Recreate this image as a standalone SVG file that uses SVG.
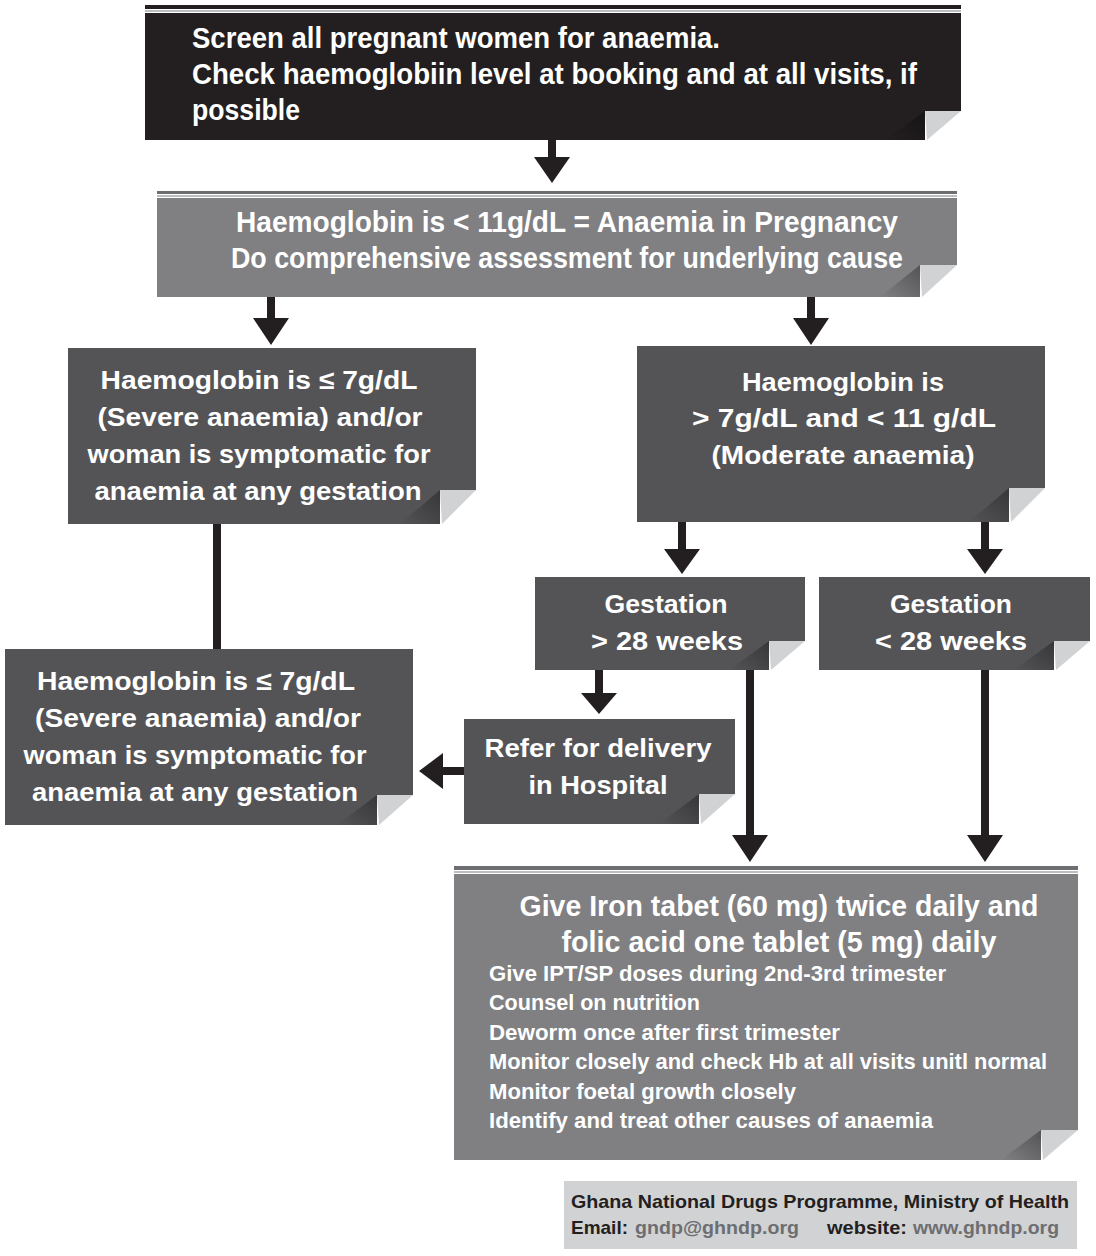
<svg xmlns="http://www.w3.org/2000/svg" width="1096" height="1256" viewBox="0 0 1096 1256">
<defs>
<style>
.t{font-family:"Liberation Sans",Arial,sans-serif;font-weight:bold;fill:#ffffff}
.c{text-anchor:middle}
.big{font-size:29px}
.mid{font-size:26px}
.sm{font-size:22px}
.ft{font-family:"Liberation Sans",Arial,sans-serif;font-weight:bold;font-size:19px;fill:#231f20}
.lnk{fill:#6d6e71}
.black{fill:#231f20}
.grey{fill:#808083}
.dark{fill:#545457}
.fold{fill:#d1d2d4}
.conn{fill:#231f20}
</style>
<linearGradient id="sh" x1="1" y1="0" x2="0" y2="1">
<stop offset="0" stop-color="#000" stop-opacity="0.35"/>
<stop offset="1" stop-color="#000" stop-opacity="0"/>
</linearGradient>
</defs>
<rect width="1096" height="1256" fill="#ffffff"/>

<g id="connectors">
<rect x="548" y="140" width="8" height="20" class="conn"/>
<polygon points="534,157 570,157 552,183" class="conn"/>
<rect x="267" y="297" width="8" height="24" class="conn"/>
<polygon points="253,318 289,318 271,345" class="conn"/>
<rect x="807" y="297" width="8" height="24" class="conn"/>
<polygon points="793,318 829,318 811,345" class="conn"/>
<rect x="213" y="524" width="8" height="125" class="conn"/>
<rect x="678" y="522" width="8" height="30" class="conn"/>
<polygon points="664,549 700,549 682,574" class="conn"/>
<rect x="981" y="522" width="8" height="30" class="conn"/>
<polygon points="967,549 1003,549 985,574" class="conn"/>
<rect x="595" y="670" width="8" height="26" class="conn"/>
<polygon points="581,693 617,693 599,714" class="conn"/>
<rect x="440" y="767" width="24" height="8" class="conn"/>
<polygon points="443,753 443,789 419,771" class="conn"/>
<rect x="746" y="670" width="8" height="168" class="conn"/>
<polygon points="732,835 768,835 750,862" class="conn"/>
<rect x="981" y="670" width="8" height="168" class="conn"/>
<polygon points="967,835 1003,835 985,862" class="conn"/>
</g>

<g id="screen">
<rect x="145" y="5" width="816" height="4" fill="#231f20"/>
<rect x="145" y="10" width="816" height="2" fill="#bcbdc0"/>
<polygon points="145,13 961,13 961,111 925,111 925,140 145,140" class="black"/>
<polygon points="885,140 925,111 925,140" fill="url(#sh)"/>
<polygon points="925,111 961,111 927,140" class="fold"/>
<text class="t big" x="192" y="48" textLength="528" lengthAdjust="spacingAndGlyphs">Screen all pregnant women for anaemia.</text>
<text class="t big" x="192" y="84" textLength="725" lengthAdjust="spacingAndGlyphs">Check haemoglobiin level at booking and at all visits, if</text>
<text class="t big" x="192" y="120" textLength="108" lengthAdjust="spacingAndGlyphs">possible</text>
</g>

<g id="anaemia">
<rect x="157" y="191" width="800" height="3" fill="#6d6e71"/>
<rect x="157" y="195" width="800" height="2" fill="#bcbdc0"/>
<polygon points="157,198 957,198 957,265 920,265 920,297 157,297" class="grey"/>
<polygon points="880,297 920,265 920,297" fill="url(#sh)"/>
<polygon points="920,265 957,265 922,297" class="fold"/>
<text class="t big c" x="567" y="232" textLength="662" lengthAdjust="spacingAndGlyphs">Haemoglobin is &lt; 11g/dL = Anaemia in Pregnancy</text>
<text class="t big c" x="567" y="268" textLength="672" lengthAdjust="spacingAndGlyphs">Do comprehensive assessment for underlying cause</text>
</g>

<g id="severe">
<polygon points="68,348 476,348 476,490 440,490 440,524 68,524" class="dark"/>
<polygon points="400,524 440,490 440,524" fill="url(#sh)"/>
<polygon points="440,490 476,490 442,524" class="fold"/>
<text class="t mid c" x="259" y="389" textLength="317" lengthAdjust="spacingAndGlyphs">Haemoglobin is ≤ 7g/dL</text>
<text class="t mid c" x="260" y="426" textLength="325" lengthAdjust="spacingAndGlyphs">(Severe anaemia) and/or</text>
<text class="t mid c" x="259" y="463" textLength="343" lengthAdjust="spacingAndGlyphs">woman is symptomatic for</text>
<text class="t mid c" x="258" y="500" textLength="327" lengthAdjust="spacingAndGlyphs">anaemia at any gestation</text>
</g>

<g id="moderate">
<polygon points="637,346 1045,346 1045,488 1009,488 1009,522 637,522" class="dark"/>
<polygon points="969,522 1009,488 1009,522" fill="url(#sh)"/>
<polygon points="1009,488 1045,488 1011,522" class="fold"/>
<text class="t mid c" x="843" y="391" textLength="202" lengthAdjust="spacingAndGlyphs">Haemoglobin is</text>
<text class="t mid c" x="844" y="427" textLength="304" lengthAdjust="spacingAndGlyphs">&gt; 7g/dL and &lt; 11 g/dL</text>
<text class="t mid c" x="843" y="464" textLength="263" lengthAdjust="spacingAndGlyphs">(Moderate anaemia)</text>
</g>

<g id="severe2">
<polygon points="5,649 413,649 413,795 377,795 377,825 5,825" class="dark"/>
<polygon points="337,825 377,795 377,825" fill="url(#sh)"/>
<polygon points="377,795 413,795 379,825" class="fold"/>
<text class="t mid c" x="196" y="690" textLength="318" lengthAdjust="spacingAndGlyphs">Haemoglobin is ≤ 7g/dL</text>
<text class="t mid c" x="198" y="727" textLength="326" lengthAdjust="spacingAndGlyphs">(Severe anaemia) and/or</text>
<text class="t mid c" x="195" y="764" textLength="343" lengthAdjust="spacingAndGlyphs">woman is symptomatic for</text>
<text class="t mid c" x="195" y="801" textLength="326" lengthAdjust="spacingAndGlyphs">anaemia at any gestation</text>
</g>

<g id="gest-over">
<polygon points="535,577 805,577 805,641 769,641 769,670 535,670" class="dark"/>
<polygon points="729,670 769,641 769,670" fill="url(#sh)"/>
<polygon points="769,641 805,641 771,670" class="fold"/>
<text class="t mid c" x="666" y="613" textLength="123" lengthAdjust="spacingAndGlyphs">Gestation</text>
<text class="t mid c" x="667" y="650" textLength="152" lengthAdjust="spacingAndGlyphs">&gt; 28 weeks</text>
</g>

<g id="gest-under">
<polygon points="819,577 1090,577 1090,641 1054,641 1054,670 819,670" class="dark"/>
<polygon points="1014,670 1054,641 1054,670" fill="url(#sh)"/>
<polygon points="1054,641 1090,641 1056,670" class="fold"/>
<text class="t mid c" x="951" y="613" textLength="122" lengthAdjust="spacingAndGlyphs">Gestation</text>
<text class="t mid c" x="951" y="650" textLength="152" lengthAdjust="spacingAndGlyphs">&lt; 28 weeks</text>
</g>

<g id="refer">
<polygon points="464,719 735,719 735,794 699,794 699,824 464,824" class="dark"/>
<polygon points="659,824 699,794 699,824" fill="url(#sh)"/>
<polygon points="699,794 735,794 701,824" class="fold"/>
<text class="t mid c" x="598" y="757" textLength="227" lengthAdjust="spacingAndGlyphs">Refer for delivery</text>
<text class="t mid c" x="598" y="794" textLength="139" lengthAdjust="spacingAndGlyphs">in Hospital</text>
</g>

<g id="treatment">
<rect x="454" y="866" width="624" height="4" fill="#6d6e71"/>
<rect x="454" y="871" width="624" height="2" fill="#bcbdc0"/>
<polygon points="454,874 1078,874 1078,1130 1041,1130 1041,1160 454,1160" class="grey"/>
<polygon points="1001,1160 1041,1130 1041,1160" fill="url(#sh)"/>
<polygon points="1041,1130 1078,1130 1043,1160" class="fold"/>
<text class="t big c" x="779" y="916" textLength="519" lengthAdjust="spacingAndGlyphs">Give Iron tabet (60 mg) twice daily and</text>
<text class="t big c" x="779" y="952" textLength="435" lengthAdjust="spacingAndGlyphs">folic acid one tablet (5 mg) daily</text>
<text class="t sm" x="489" y="981" textLength="457" lengthAdjust="spacingAndGlyphs">Give IPT/SP doses during 2nd-3rd trimester</text>
<text class="t sm" x="489" y="1010" textLength="211" lengthAdjust="spacingAndGlyphs">Counsel on nutrition</text>
<text class="t sm" x="489" y="1040" textLength="351" lengthAdjust="spacingAndGlyphs">Deworm once after first trimester</text>
<text class="t sm" x="489" y="1069" textLength="558" lengthAdjust="spacingAndGlyphs">Monitor closely and check Hb at all visits unitl normal</text>
<text class="t sm" x="489" y="1099" textLength="307" lengthAdjust="spacingAndGlyphs">Monitor foetal growth closely</text>
<text class="t sm" x="489" y="1128" textLength="444" lengthAdjust="spacingAndGlyphs">Identify and treat other causes of anaemia</text>
</g>

<g id="footer">
<rect x="564" y="1181" width="513" height="68" fill="#d1d2d4"/>
<text class="ft" x="571" y="1208" textLength="498" lengthAdjust="spacingAndGlyphs">Ghana National Drugs Programme, Ministry of Health</text>
<text class="ft" x="571" y="1234" textLength="57" lengthAdjust="spacingAndGlyphs">Email:</text>
<text class="ft lnk" x="635" y="1234" textLength="164" lengthAdjust="spacingAndGlyphs">gndp@ghndp.org</text>
<text class="ft" x="827" y="1234" textLength="80" lengthAdjust="spacingAndGlyphs">website:</text>
<text class="ft lnk" x="913" y="1234" textLength="146" lengthAdjust="spacingAndGlyphs">www.ghndp.org</text>
</g>
</svg>
